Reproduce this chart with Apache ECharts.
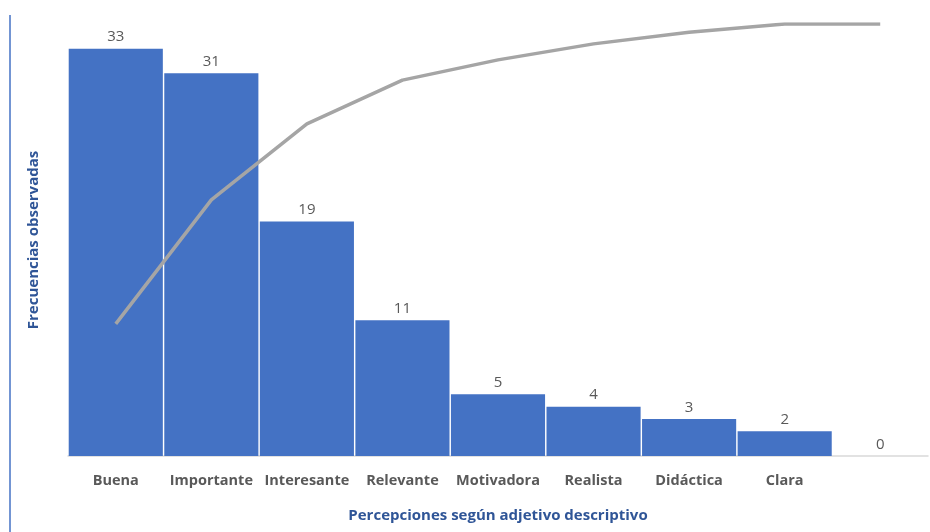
<!DOCTYPE html>
<html>
<head>
<meta charset="utf-8">
<script src="https://cdn.jsdelivr.net/npm/echarts@6/dist/echarts.min.js"></script>
<style>html,body{margin:0;padding:0;background:#fff}#c{width:930px;height:532px}</style>
</head>
<body>
<div id="c"></div>
<script>
const categories = ['Buena','Importante','Interesante','Relevante','Motivadora','Realista','Didáctica','Clara',''];
const frequencies = [33,31,19,11,5,4,3,2,0];
const cumulativePct = [30.6,59.3,76.9,87.0,91.7,95.4,98.1,100,100];
const xAxisTitle = 'Percepciones según adjetivo descriptivo';
const yAxisTitle = 'Frecuencias observadas';

const chart = echarts.init(document.getElementById('c'));
const font = '"Open Sans", "Noto Sans", sans-serif';
chart.setOption({
  animation:false,
  textStyle:{fontFamily:font},
  grid:{left:68,right:2,top:24,bottom:76},
  graphic:[{type:'line',shape:{x1:10,y1:15,x2:10,y2:532},style:{stroke:'#4472C4',lineWidth:1.5}}],
  xAxis:{
    type:'category',data:categories,
    axisLine:{lineStyle:{color:'#D9D9D9',width:1.5}},
    axisTick:{show:false},
    axisLabel:{color:'#595959',fontWeight:'bold',fontSize:14.5,margin:17,fontFamily:font,interval:0},
    name:xAxisTitle,nameLocation:'middle',nameGap:52,
    nameTextStyle:{color:'#2F5597',fontWeight:'bold',fontSize:15,fontFamily:font}
  },
  yAxis:[{
    type:'value',min:0,max:35,
    axisLine:{show:false},axisTick:{show:false},axisLabel:{show:false},splitLine:{show:false},
    name:yAxisTitle,nameLocation:'middle',nameGap:27,nameRotate:90,
    nameTextStyle:{color:'#2F5597',fontWeight:'bold',fontSize:15,fontFamily:font}
  },{
    type:'value',min:0,max:100,show:false,splitLine:{show:false}
  }],
  series:[{
    type:'bar',data:frequencies,barCategoryGap:'1.5%',
    itemStyle:{color:'#4472C4'},
    label:{show:true,position:'top',color:'#595959',fontSize:15,distance:4,fontFamily:font}
  },{
    type:'line',yAxisIndex:1,data:cumulativePct,symbol:'none',
    lineStyle:{color:'#A5A5A5',width:3.5},z:5
  }]
});
</script>
</body>
</html>
